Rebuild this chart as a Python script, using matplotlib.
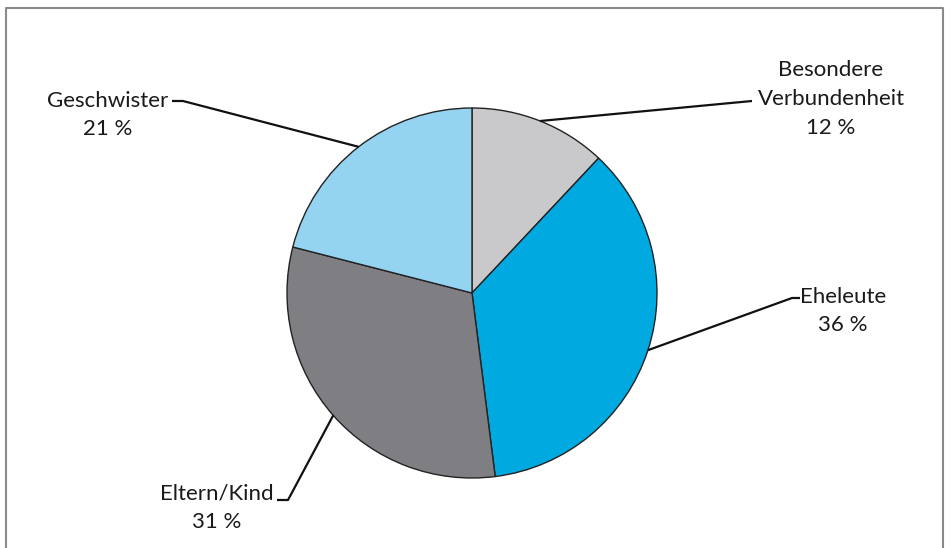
import matplotlib.pyplot as plt
import numpy as np

# pie data
labels = ["Besondere\nVerbundenheit", "Eheleute", "Eltern/Kind", "Geschwister"]
shares = [12, 36, 31, 21]
colors = ["#C9C9CB", "#00A9E0", "#7E7E83", "#95D4F0"]

W, H = 950, 548
plt.rcParams['font.family'] = ['Lato', 'DejaVu Sans']

fig = plt.figure(figsize=(9.5, 5.48), dpi=100)
ax = fig.add_axes([0, 0, 1, 1])

cx, cy, r = 472, H - 293, 185
wedges, _ = ax.pie(shares, colors=colors, startangle=90, counterclock=False,
                   center=(cx, cy), radius=r, frame=True,
                   wedgeprops=dict(edgecolor="#222222", linewidth=1.0))
ax.set_xlim(0, W)
ax.set_ylim(0, H)
ax.set_aspect('equal')
ax.axis('off')

# label layout in pixels (top origin): elbow, line end, text centre
layout = [
    ((752, 101), (752, 101), (831, 99)),
    ((792, 298), (800, 298), (843, 311)),
    ((288, 500), (277, 500), (217, 508)),
    ((183, 101), (172, 101), (108, 115)),
]

for w, lab, val, (elbow, end, txt) in zip(wedges, labels, shares, layout):
    mid = np.deg2rad((w.theta1 + w.theta2) / 2)
    px, py = cx + r * np.cos(mid), cy + r * np.sin(mid)
    xs = [px, elbow[0], end[0]]
    ys = [py, H - elbow[1], H - end[1]]
    ax.plot(xs, ys, color="#111111", lw=1.6, solid_capstyle='butt')
    ax.text(txt[0], H - txt[1], f"{lab}\n{val} %", ha='center', va='center',
            fontsize=16, color="#1a1a1a", linespacing=1.55)

# outer frame (open at the bottom)
ax.plot([6, 6, 943, 943], [0, H - 8, H - 8, 0], color="#8a8a8a", lw=1.5)

fig.savefig("out.png", dpi=100)
